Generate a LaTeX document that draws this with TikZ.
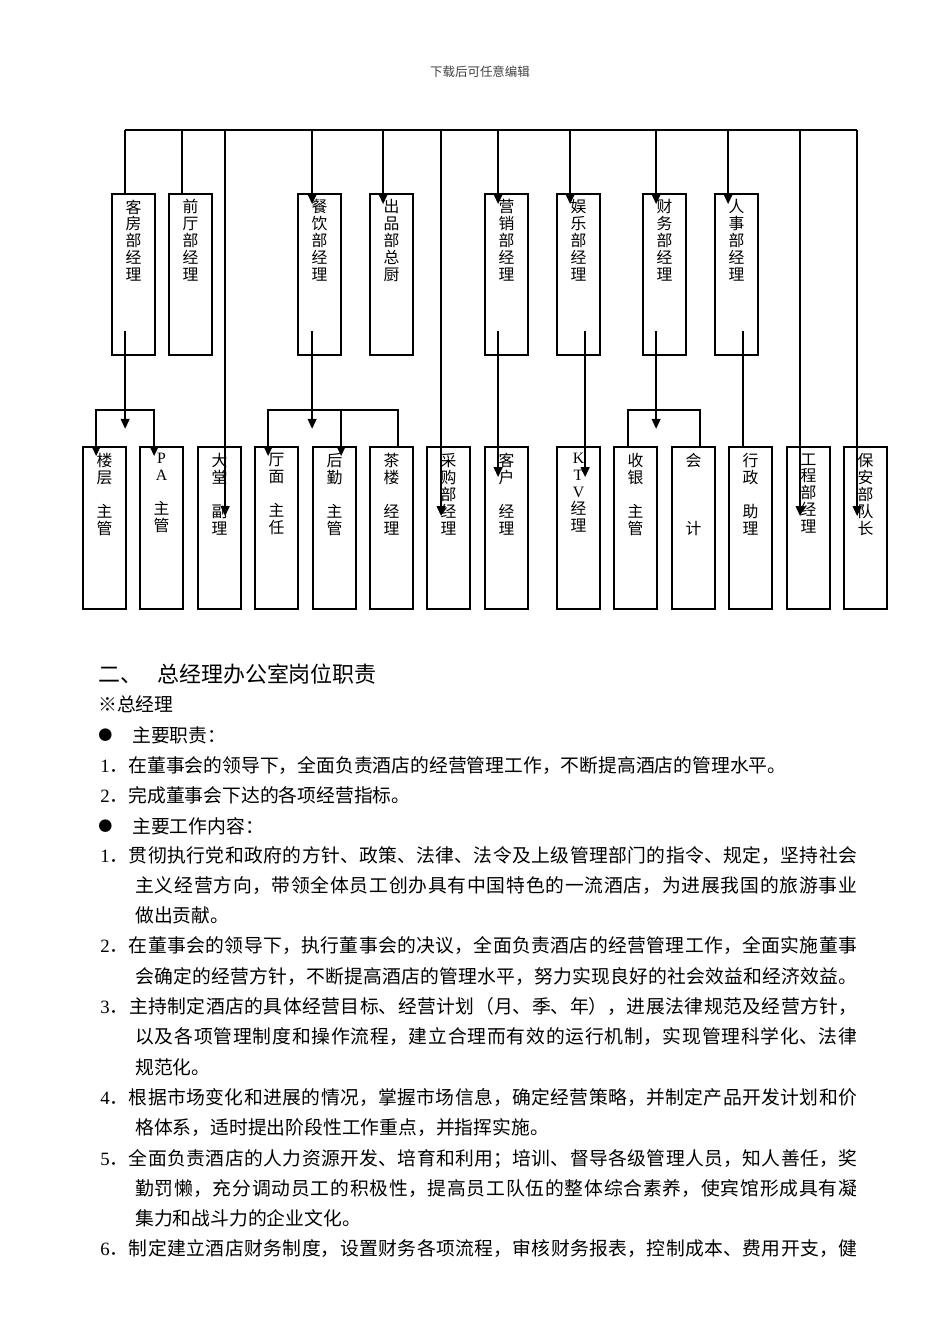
\documentclass[tikz,border=0pt]{standalone}
\usepackage{fontspec}
\setmainfont{Liberation Serif}
\newfontfamily\cjk{Noto Sans CJK SC}
\usetikzlibrary{arrows.meta,positioning}
\XeTeXlinebreaklocale "zh"
\XeTeXlinebreakskip=0pt plus 2pt
\newcommand{\dotmark}{\raisebox{1.3pt}{\fontsize{8}{8}\selectfont ●}}

\begin{document}
\begin{tikzpicture}[
    x=0.02cm, y=-0.02cm,
    topbox/.style={rectangle, draw, line width=1pt, minimum width=0.86cm, minimum height=3.22cm, inner sep=0pt},
    lowbox/.style={topbox, minimum height=3.24cm},
    boxtext/.style={align=center, inner sep=0pt, font=\cjk\fontsize{9}{9.6}\selectfont},
    body/.style={anchor=base west, inner sep=0pt, font=\cjk\fontsize{10.7}{12}\selectfont},
    fullline/.style={body, text width=#1, align=justify, execute at begin node={\parfillskip=0pt\relax}},
    link/.style={line width=1pt},
    arrow/.style={link, -{Triangle[width=5pt,length=5.7pt]}},
    twoway/.style={link, {Triangle[width=5pt,length=5.7pt]}-{Triangle[width=5pt,length=5.7pt]}}
]
\useasboundingbox (0,0) rectangle (950,1344);

% Header
\node[anchor=base, inner sep=0pt, text=black!75, font=\cjk\fontsize{7.1}{8}\selectfont] (head) at (480,76.5) {下载后可任意编辑};

% Department managers
\node[topbox] (kf) at (133.5,274.5) {};
\node[topbox] (qt) at (190.5,274.5) {};
\node[topbox] (cy) at (319.5,274.5) {};
\node[topbox] (cp) at (391.5,274.5) {};
\node[topbox] (yx) at (506.5,274.5) {};
\node[topbox] (yl) at (578.5,274.5) {};
\node[topbox] (cw) at (664.5,274.5) {};
\node[topbox] (rs) at (736.5,274.5) {};

\node[boxtext, below=3.5pt of kf.north] (kf-t) {客\\房\\部\\经\\理};
\node[boxtext, below=3.5pt of qt.north] (qt-t) {前\\厅\\部\\经\\理};
\node[boxtext, below=3.5pt of cy.north] (cy-t) {餐\\饮\\部\\经\\理};
\node[boxtext, below=3.5pt of cp.north] (cp-t) {出\\品\\部\\总\\厨};
\node[boxtext, below=3.5pt of yx.north] (yx-t) {营\\销\\部\\经\\理};
\node[boxtext, below=3.5pt of yl.north] (yl-t) {娱\\乐\\部\\经\\理};
\node[boxtext, below=3.5pt of cw.north] (cw-t) {财\\务\\部\\经\\理};
\node[boxtext, below=3.5pt of rs.north] (rs-t) {人\\事\\部\\经\\理};

% Staff
\node[lowbox] (lc) at (104.5,528) {};
\node[lowbox] (pa) at (161.5,528) {};
\node[lowbox] (dt) at (219.5,528) {};
\node[lowbox] (tm) at (276.5,528) {};
\node[lowbox] (hq) at (334.5,528) {};
\node[lowbox] (cl) at (391.5,528) {};
\node[lowbox] (cg) at (448.5,528) {};
\node[lowbox] (kh) at (506.5,528) {};
\node[lowbox] (ktv) at (578.5,528) {};
\node[lowbox] (sy) at (635.5,528) {};
\node[lowbox] (kj) at (693.5,528) {};
\node[lowbox] (xz) at (750.5,528) {};
\node[lowbox] (gc) at (808.5,528) {};
\node[lowbox] (ba) at (865.5,528) {};

\node[boxtext, below=4pt of lc.north] (lc-t) {楼\\层\\~\\主\\管};
\node[boxtext, below=4pt of pa.north] (pa-t) {{\rmfamily P}\\{\rmfamily A}\\~\\主\\管};
\node[boxtext, below=4pt of dt.north] (dt-t) {大\\堂\\~\\副\\理};
\node[boxtext, below=4pt of tm.north] (tm-t) {厅\\面\\~\\主\\任};
\node[boxtext, below=4pt of hq.north] (hq-t) {后\\勤\\~\\主\\管};
\node[boxtext, below=4pt of cl.north] (cl-t) {茶\\楼\\~\\经\\理};
\node[boxtext, below=4pt of cg.north] (cg-t) {采\\购\\部\\经\\理};
\node[boxtext, below=4pt of kh.north] (kh-t) {客\\户\\~\\经\\理};
\node[boxtext, below=4pt of ktv.north] (ktv-t) {{\rmfamily K}\\{\rmfamily T}\\{\rmfamily V}\\经\\理};
\node[boxtext, below=4pt of sy.north] (sy-t) {收\\银\\~\\主\\管};
\node[boxtext, below=4pt of kj.north] (kj-t) {会\\~\\~\\~\\计};
\node[boxtext, below=4pt of xz.north] (xz-t) {行\\政\\~\\助\\理};
\node[boxtext, below=4pt of gc.north] (gc-t) {工\\程\\部\\经\\理};
\node[boxtext, below=4pt of ba.north] (ba-t) {保\\安\\部\\队\\长};

% Top bus and drops
\draw[link] ([shift={(14,-63)}]kf.north west) -- ([shift={(14,-316)}]ba.north west);
\draw[link] ([shift={(14,0)}]kf.north west) -- ++(0,-63);
\draw[link] ([shift={(14,0)}]qt.north west) -- ++(0,-63);
\draw[arrow] ([shift={(28,-316)}]dt.north west) -- ([shift={(28,70)}]dt.north west);
\draw[arrow] ([shift={(15,-63)}]cy.north west) -- ([shift={(15,11)}]cy.north west);
\draw[arrow] ([shift={(14,-63)}]cp.north west) -- ([shift={(14,11)}]cp.north west);
\draw[arrow] ([shift={(15,-316)}]cg.north west) -- ([shift={(15,70)}]cg.north west);
\draw[arrow] ([shift={(14,-63)}]yx.north west) -- ([shift={(14,11)}]yx.north west);
\draw[arrow] ([shift={(14,-63)}]yl.north west) -- ([shift={(14,11)}]yl.north west);
\draw[arrow] ([shift={(14,-63)}]cw.north west) -- ([shift={(14,11)}]cw.north west);
\draw[arrow] ([shift={(14,-63)}]rs.north west) -- ([shift={(14,11)}]rs.north west);
\draw[arrow] ([shift={(14,-316)}]gc.north west) -- ([shift={(14,70)}]gc.north west);
\draw[arrow] ([shift={(14,-316)}]ba.north west) -- ([shift={(14,70)}]ba.north west);

% Lower links
\draw[arrow] ([shift={(14,-25)}]kf.south west) -- ++(0,98);
\draw[twoway] ([shift={(14,10)}]lc.north west) -- ++(0,-46) -| ([shift={(15,10)}]pa.north west);
\draw[arrow] ([shift={(15,-25)}]cy.south west) -- ++(0,98);
\draw[twoway] ([shift={(14,10)}]tm.north west) -- ++(0,-46) -| ([shift={(29,10)}]hq.north west);
\draw[link] ([shift={(29,-36)}]hq.north west) -| ([shift={(29,0)}]cl.north west);
\draw[arrow] ([shift={(14,-25)}]yx.south west) -- ([shift={(14,31)}]kh.north west);
\draw[arrow] ([shift={(29,-25)}]yl.south west) -- ([shift={(29,31)}]ktv.north west);
\draw[arrow] ([shift={(14,-25)}]cw.south west) -- ++(0,98);
\draw[link] ([shift={(15,0)}]sy.north west) -- ++(0,-36) -| ([shift={(29,0)}]kj.north west);
\draw[link] ([shift={(29,-25)}]rs.south west) -- ([shift={(15,0)}]xz.north west);

% Text below the chart
\node[body, font=\cjk\fontsize{12.5}{14}\selectfont] (title) at (98,682) {二、\hspace{8.5pt}总经理办公室岗位职责};
\node[body] (gm) at (98,711.5) {※总经理};
\node[body] (duty) at (98,742.5) {\dotmark\hspace{11.3pt}主要职责：};
\node[body] (d1) at (100,772) {{\rmfamily 1}．在董事会的领导下，全面负责酒店的经营管理工作，不断提高酒店的管理水平。};
\node[body] (d2) at (100,802.5) {{\rmfamily 2}．完成董事会下达的各项经营指标。};
\node[body] (work) at (98,833.5) {\dotmark\hspace{11.3pt}主要工作内容：};

\node[fullline=15.14cm] (w1a) at (100,862) {{\rmfamily 1}．贯彻执行党和政府的方针、政策、法律、法令及上级管理部门的指令、规定，坚持社会};
\node[fullline=14.44cm] (w1b) at (135,892.3) {主义经营方向，带领全体员工创办具有中国特色的一流酒店，为进展我国的旅游事业};
\node[body] (w1c) at (135,922.6) {做出贡献。};
\node[fullline=15.14cm] (w2a) at (100,952.9) {{\rmfamily 2}．在董事会的领导下，执行董事会的决议，全面负责酒店的经营管理工作，全面实施董事};
\node[fullline=14.44cm] (w2b) at (135,983.2) {会确定的经营方针，不断提高酒店的管理水平，努力实现良好的社会效益和经济效益。};
\node[fullline=15.14cm] (w3a) at (100,1013.5) {{\rmfamily 3}．主持制定酒店的具体经营目标、经营计划（月、季、年），进展法律规范及经营方针，};
\node[fullline=14.44cm] (w3b) at (135,1043.8) {以及各项管理制度和操作流程，建立合理而有效的运行机制，实现管理科学化、法律};
\node[body] (w3c) at (135,1074.1) {规范化。};
\node[fullline=15.14cm] (w4a) at (100,1104.4) {{\rmfamily 4}．根据市场变化和进展的情况，掌握市场信息，确定经营策略，并制定产品开发计划和价};
\node[body] (w4b) at (135,1134.7) {格体系，适时提出阶段性工作重点，并指挥实施。};
\node[fullline=15.14cm] (w5a) at (100,1165) {{\rmfamily 5}．全面负责酒店的人力资源开发、培育和利用；培训、督导各级管理人员，知人善任，奖};
\node[fullline=14.44cm] (w5b) at (135,1195.3) {勤罚懒，充分调动员工的积极性，提高员工队伍的整体综合素养，使宾馆形成具有凝};
\node[body] (w5c) at (135,1225.6) {集力和战斗力的企业文化。};
\node[fullline=15.14cm] (w6a) at (100,1255.9) {{\rmfamily 6}．制定建立酒店财务制度，设置财务各项流程，审核财务报表，控制成本、费用开支，健};

\end{tikzpicture}
\end{document}
